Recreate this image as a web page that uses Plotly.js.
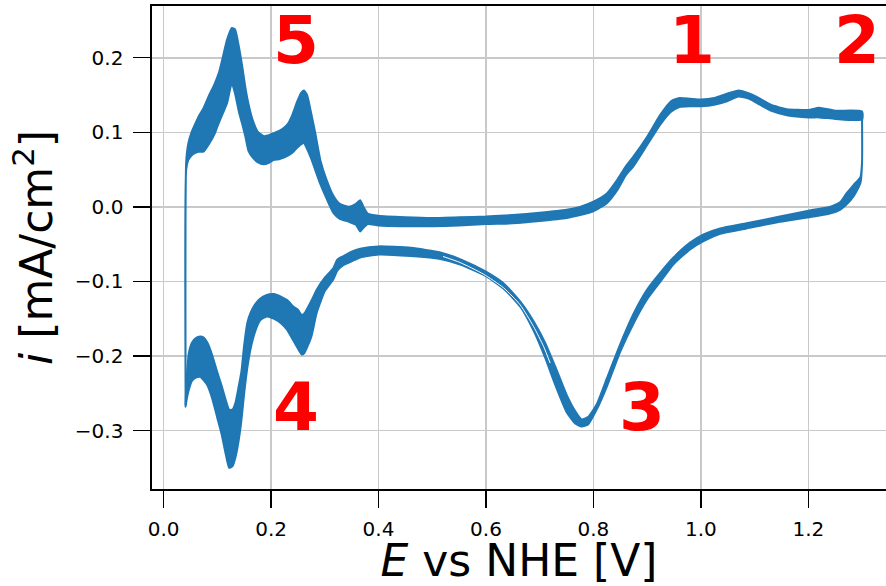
<!DOCTYPE html>
<html>
<head>
<meta charset="utf-8">
<script src="https://cdn.plot.ly/plotly-3.0.1.min.js"></script>
<style>html,body{margin:0;padding:0;background:#fff;}#chart{width:886px;height:586px;}</style>
</head>
<body>
<div id="chart"></div>
<script>
// Anodic (forward) sweep: potential and outer edges of the noisy current band
const fwdE = [0.041,0.042,0.046,0.052,0.058,0.065,0.074,0.085,0.095,0.103,
  0.110,0.118,0.127,0.133,0.140,0.146,0.152,0.158,0.166,0.175,
  0.186,0.196,0.205,0.215,0.224,0.232,0.240,0.248,0.256,0.261,
  0.267,0.274,0.282,0.292,0.304,0.316,0.328,0.345,0.358,0.366,
  0.372,0.380,0.400,0.450,0.500,0.550,0.600,0.650,0.700,0.750,
  0.775,0.800,0.825,0.845,0.860,0.875,0.900,0.925,0.945,0.960,
  0.980,1.000,1.025,1.050,1.070,1.090,1.110,1.130,1.160,1.200,
  1.220,1.250,1.300];
const fwdHi = [-0.266,0.060,0.085,0.100,0.110,0.121,0.132,0.150,0.165,0.180,
  0.200,0.224,0.240,0.238,0.215,0.190,0.161,0.138,0.116,0.101,
  0.095,0.096,0.099,0.102,0.106,0.112,0.124,0.140,0.153,0.156,
  0.150,0.128,0.100,0.062,0.035,0.015,0.004,0.000,0.004,0.009,
  0.000,-0.009,-0.012,-0.014,-0.015,-0.014,-0.013,-0.011,-0.008,-0.004,
  0.000,0.007,0.018,0.037,0.054,0.068,0.094,0.124,0.142,0.146,
  0.145,0.144,0.146,0.152,0.156,0.152,0.145,0.137,0.131,0.130,
  0.133,0.129,0.128];
const fwdLo = [-0.266,0.050,0.063,0.069,0.072,0.074,0.074,0.085,0.098,0.113,
  0.125,0.139,0.166,0.152,0.128,0.112,0.095,0.075,0.066,0.060,
  0.057,0.059,0.063,0.064,0.066,0.069,0.073,0.079,0.084,0.086,
  0.078,0.066,0.050,0.030,0.010,-0.008,-0.016,-0.020,-0.024,-0.033,
  -0.028,-0.023,-0.025,-0.026,-0.026,-0.025,-0.023,-0.022,-0.019,-0.015,
  -0.011,-0.006,0.005,0.023,0.042,0.055,0.083,0.111,0.128,0.134,
  0.135,0.135,0.137,0.142,0.148,0.145,0.137,0.129,0.123,0.120,
  0.120,0.118,0.117];

// Cathodic (backward) sweep
const bwdE = [1.300,1.300,1.297,1.285,1.271,1.259,1.240,1.209,1.147,1.085,
  1.036,1.005,0.980,0.949,0.925,0.900,0.875,0.850,0.825,0.806,
  0.790,0.778,0.766,0.750,0.730,0.710,0.690,0.665,0.635,0.600,
  0.555,0.515,0.460,0.400,0.366,0.350,0.335,0.323,0.316,0.300,
  0.285,0.275,0.262,0.257,0.250,0.242,0.230,0.220,0.205,0.192,
  0.180,0.170,0.162,0.156,0.150,0.145,0.140,0.134,0.128,0.122,
  0.116,0.108,0.100,0.090,0.082,0.074,0.068,0.060,0.053,0.047,
  0.043,0.041];
const bwdHi = [0.126,0.060,0.040,0.030,0.018,0.006,0.000,-0.004,-0.013,-0.022,
  -0.029,-0.037,-0.048,-0.068,-0.088,-0.111,-0.143,-0.184,-0.230,-0.265,
  -0.282,-0.285,-0.274,-0.252,-0.216,-0.182,-0.155,-0.128,-0.104,-0.087,
  -0.071,-0.061,-0.055,-0.053,-0.056,-0.060,-0.066,-0.071,-0.082,-0.095,
  -0.111,-0.126,-0.143,-0.145,-0.138,-0.134,-0.125,-0.121,-0.117,-0.118,
  -0.123,-0.131,-0.142,-0.155,-0.185,-0.220,-0.240,-0.262,-0.272,-0.272,
  -0.260,-0.240,-0.222,-0.198,-0.183,-0.175,-0.174,-0.176,-0.182,-0.196,
  -0.230,-0.265];
const bwdLo = [0.117,0.058,0.032,0.015,0.003,-0.004,-0.009,-0.013,-0.020,-0.029,
  -0.036,-0.046,-0.057,-0.077,-0.100,-0.124,-0.156,-0.194,-0.241,-0.272,
  -0.292,-0.2945,-0.2905,-0.275,-0.2405,-0.202,-0.168,-0.135,-0.111,-0.093,
  -0.078,-0.070,-0.066,-0.064,-0.068,-0.073,-0.078,-0.086,-0.097,-0.113,
  -0.142,-0.174,-0.196,-0.198,-0.190,-0.180,-0.165,-0.157,-0.150,-0.147,
  -0.152,-0.168,-0.190,-0.215,-0.250,-0.285,-0.312,-0.335,-0.348,-0.350,
  -0.333,-0.305,-0.283,-0.256,-0.240,-0.232,-0.228,-0.229,-0.233,-0.245,
  -0.258,-0.268];

// Thin gap between two overlapping cathodic cycles (peak 3 shoulder)
const gapE = [0.520, 0.552, 0.5955, 0.6326, 0.6636, 0.6885, 0.7073, 0.7195];
const gapI = [-0.0665, -0.0747, -0.0903, -0.1085, -0.1314, -0.1604, -0.1873, -0.2095];

// Peak labels
const peakLabels = ['1','2','3','4','5'];
const peakE = [0.984, 1.291, 0.891, 0.247, 0.247];
const peakI = [0.2225, 0.2225, -0.2694, -0.2694, 0.2225];

const xTicks = [0, 0.2, 0.4, 0.6, 0.8, 1.0, 1.2];
const xTickText = ['0.0','0.2','0.4','0.6','0.8','1.0','1.2'];
const yTicks = [-0.3, -0.2, -0.1, 0, 0.1, 0.2];
const yTickText = ['\u22120.3','\u22120.2','\u22120.1','0.0','0.1','0.2'];

const blue = '#1f77b4';
function band(E, hi, lo) {
  return {
    x: E.concat(E.slice().reverse()),
    y: hi.concat(lo.slice().reverse()),
    type: 'scatter', mode: 'lines', fill: 'toself',
    fillcolor: blue, line: {color: blue, width: 2, shape: 'spline', smoothing: 0.5},
    hoverinfo: 'skip', showlegend: false
  };
}

const data = [
  band(fwdE, fwdHi, fwdLo),
  band(bwdE, bwdHi, bwdLo),
  {x: gapE, y: gapI, type: 'scatter', mode: 'lines',
   line: {color: '#ffffff', width: 1, shape: 'spline', smoothing: 0.6},
   hoverinfo: 'skip', showlegend: false}
];

const annotations = peakLabels.map((t, k) => ({
  x: peakE[k], y: peakI[k], xref: 'x', yref: 'y',
  text: '<b>' + t + '</b>', showarrow: false,
  xanchor: 'center', yanchor: 'middle',
  font: {family: 'DejaVu Sans', size: 66, color: '#ff0000'}
}));

const axisCommon = {
  showgrid: true, gridcolor: '#c9c9c9', gridwidth: 1.6,
  zeroline: false, showline: true, linecolor: '#000', linewidth: 1.6,
  ticks: 'outside', ticklen: 17, tickwidth: 1.5, tickcolor: '#000',
  tickfont: {family: 'DejaVu Sans', size: 20, color: '#000'},
  automargin: false
};

const layout = {
  width: 886, height: 586,
  margin: {l: 152, r: 0, t: 6, b: 97, pad: 0},
  paper_bgcolor: '#fff', plot_bgcolor: '#fff',
  showlegend: false,
  font: {family: 'DejaVu Sans', color: '#000'},
  xaxis: Object.assign({}, axisCommon, {
    range: [-0.0216, 1.3446], mirror: true,
    tickvals: xTicks, ticktext: xTickText, ticklabelstandoff: 4,
    title: {text: '<i>E</i> vs NHE [V]', font: {family: 'DejaVu Sans', size: 44, color: '#000'}, standoff: 6}
  }),
  yaxis: Object.assign({}, axisCommon, {
    range: [-0.3784, 0.2694], mirror: false,
    tickvals: yTicks, ticktext: yTickText, ticklabelstandoff: 6,
    title: {text: '<i>i</i> [mA/cm<sup>2</sup>]', font: {family: 'DejaVu Sans', size: 44, color: '#000'}, standoff: 8}
  }),
  annotations: annotations
};

Plotly.newPlot('chart', data, layout, {displayModeBar: false, staticPlot: true});
</script>
</body>
</html>
